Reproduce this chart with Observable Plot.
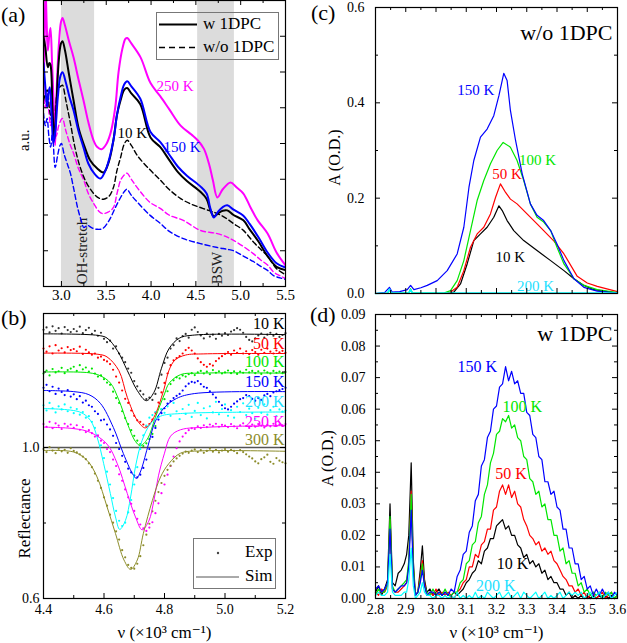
<!DOCTYPE html>
<html><head><meta charset="utf-8">
<script src="https://cdn.jsdelivr.net/npm/d3@7"></script>
<script src="https://cdn.jsdelivr.net/npm/@observablehq/plot@0.6"></script>
<style>
body{margin:0;background:#fff;}
#root{position:relative;width:627px;height:643px;overflow:hidden;font-family:"Liberation Serif","Times New Roman","DejaVu Serif",serif;color:#000;}
.letter{position:absolute;font-size:22px;}
.leg{position:absolute;border:1px solid #777;font-size:17px;}
.leg span{position:absolute;white-space:nowrap;}
</style></head><body><div id="root"></div>
<script>
// ---------------- Panel (a): a.u. spectra ----------------
const a250w = [[2.80,5.4],[2.812,6.8],[2.822,8.4],[2.835,7.4],[2.848,6.6],[2.864,7.0],[2.878,7.23],[2.895,6.3],[2.912,5.2],[2.93,3.95],[2.95,5.7],[2.975,6.9],[2.995,7.4],[3.012,7.51],[3.04,7.3],[3.08,6.9],[3.135,6.41],[3.19,5.8],[3.246,5.21],[3.30,4.6],[3.358,4.09],[3.40,3.9],[3.447,3.84],[3.50,3.98],[3.548,4.29],[3.60,5.0],[3.637,5.99],[3.68,6.65],[3.715,6.93],[3.735,6.95],[3.78,6.8],[3.883,6.41],[3.994,5.69],[4.10,5.33],[4.20,4.97],[4.33,4.5],[4.45,4.25],[4.52,4.09],[4.59,3.85],[4.65,3.4],[4.69,2.97],[4.74,2.49],[4.80,2.72],[4.887,2.91],[4.95,2.78],[5.03,2.6],[5.11,2.21],[5.19,1.85],[5.30,1.48],[5.40,0.95],[5.50,0.59]];
const a150w = [[2.80,6.25],[2.82,5.6],[2.84,5.01],[2.855,5.4],[2.87,5.57],[2.89,4.8],[2.91,4.0],[2.93,4.3],[2.96,5.3],[2.99,5.9],[3.012,5.99],[3.05,5.7],[3.09,5.3],[3.135,4.93],[3.19,4.35],[3.246,3.89],[3.30,3.44],[3.37,3.15],[3.436,3.02],[3.50,3.3],[3.58,4.09],[3.62,4.8],[3.66,5.3],[3.70,5.65],[3.734,5.74],[3.78,5.6],[3.88,5.25],[3.994,4.32],[4.106,4.03],[4.20,3.7],[4.30,3.35],[4.40,3.1],[4.55,2.8],[4.62,2.6],[4.66,2.2],[4.70,1.93],[4.75,2.1],[4.80,2.22],[4.85,2.27],[4.92,2.15],[5.03,1.98],[5.10,1.75],[5.20,1.37],[5.30,0.95],[5.40,0.65],[5.50,0.53]];
const a10w = [[2.80,6.97],[2.82,6.7],[2.848,6.13],[2.865,6.25],[2.878,6.2],[2.90,5.0],[2.92,4.1],[2.94,4.9],[2.97,6.3],[2.995,6.8],[3.012,6.86],[3.04,6.6],[3.08,6.0],[3.135,5.21],[3.19,4.45],[3.246,4.0],[3.32,3.53],[3.40,3.3],[3.47,3.19],[3.53,3.5],[3.58,4.09],[3.62,4.8],[3.66,5.21],[3.70,5.5],[3.734,5.55],[3.78,5.4],[3.88,5.1],[3.994,4.17],[4.106,3.89],[4.20,3.55],[4.30,3.2],[4.40,2.95],[4.55,2.65],[4.62,2.45],[4.66,2.15],[4.70,1.96],[4.75,2.05],[4.80,2.12],[4.85,2.13],[4.92,2.0],[5.03,1.85],[5.10,1.6],[5.20,1.25],[5.30,0.85],[5.40,0.55],[5.50,0.46]];
const a250wo = [[2.80,5.49],[2.82,5.0],[2.84,5.4],[2.86,4.9],[2.88,4.5],[2.90,4.8],[2.92,4.3],[2.94,4.2],[2.97,4.5],[3.0,4.68],[3.012,4.7],[3.05,4.35],[3.10,3.95],[3.135,3.73],[3.19,3.3],[3.25,2.97],[3.30,2.6],[3.36,2.32],[3.42,2.1],[3.46,2.04],[3.52,2.08],[3.58,2.21],[3.62,2.6],[3.66,2.97],[3.70,3.12],[3.73,3.17],[3.78,3.0],[3.85,2.75],[3.99,2.35],[4.106,2.18],[4.20,2.0],[4.36,1.85],[4.55,1.57],[4.74,1.48],[4.85,1.38],[4.92,1.29],[5.03,1.12],[5.14,0.92],[5.22,0.75],[5.30,0.6],[5.37,0.4],[5.44,0.3],[5.50,0.22]];
const a150wo = [[2.80,4.85],[2.82,4.5],[2.84,4.7],[2.86,4.2],[2.88,3.9],[2.90,4.3],[2.93,3.33],[2.96,3.7],[2.985,3.95],[3.0,4.0],[3.03,3.7],[3.07,3.4],[3.10,3.17],[3.14,2.7],[3.18,2.21],[3.22,1.85],[3.25,1.65],[3.29,1.71],[3.34,1.64],[3.40,1.6],[3.46,1.62],[3.52,1.8],[3.55,1.93],[3.60,2.2],[3.66,2.49],[3.70,2.65],[3.73,2.72],[3.78,2.55],[3.85,2.35],[3.99,1.99],[4.106,1.76],[4.20,1.55],[4.36,1.34],[4.55,1.2],[4.74,1.09],[4.85,1.04],[4.92,1.0],[5.03,0.85],[5.14,0.7],[5.22,0.57],[5.30,0.45],[5.37,0.3],[5.44,0.24],[5.50,0.2]];
const a10wo = [[2.80,5.2],[2.84,5.5],[2.87,4.9],[2.90,4.6],[2.93,5.0],[2.96,5.5],[3.0,5.62],[3.012,5.63],[3.05,5.2],[3.10,4.57],[3.15,3.9],[3.21,3.33],[3.28,2.9],[3.36,2.6],[3.42,2.47],[3.47,2.44],[3.53,2.52],[3.58,2.77],[3.62,3.25],[3.66,3.61],[3.70,3.98],[3.734,4.09],[3.78,3.95],[3.85,3.65],[3.994,3.25],[4.106,2.97],[4.20,2.72],[4.33,2.46],[4.45,2.3],[4.55,2.21],[4.65,2.12],[4.74,2.04],[4.83,1.92],[4.92,1.76],[5.03,1.57],[5.14,1.25],[5.22,1.05],[5.30,0.85],[5.40,0.5],[5.50,0.33]];
const aBands = [[3.0,3.37],[4.52,4.93]];
const aBandText = ["OH-stretch","BSW"];
const aBandTextX = [3.235,4.737];
const aLabelText = ["250 K","10 K","150 K"];
const aLabelX = [4.06,3.626,4.14];
const aLabelY = [5.6,4.29,3.9];
const aXMajor = [3.0,3.5,4.0,4.5,5.0,5.5];
const aXMinor = [3.25,3.75,4.25,4.75,5.25];
const aYTicks = [1,2,3,4,5,6,7];

// ---------------- Panel (b): reflectance ----------------
const bX = [4.40,4.41,4.42,4.43,4.44,4.45,4.46,4.47,4.48,4.49,4.50,4.51,4.52,4.53,4.54,4.55,4.56,4.57,4.58,4.59,4.60,4.61,4.62,4.63,4.64,4.65,4.66,4.67,4.68,4.69,4.70,4.71,4.72,4.73,4.74,4.75,4.76,4.77,4.78,4.79,4.80,4.81,4.82,4.83,4.84,4.85,4.86,4.87,4.88,4.89,4.90,4.91,4.92,4.93,4.94,4.95,4.96,4.97,4.98,4.99,5.00,5.01,5.02,5.03,5.04,5.05,5.06,5.07,5.08,5.09,5.10,5.11,5.12,5.13,5.14,5.15,5.16,5.17,5.18,5.19,5.20];
const b10e = [1.312,1.318,1.305,1.321,1.309,1.316,1.302,1.319,1.311,1.306,1.314,1.308,1.320,1.303,1.311,1.317,1.301,1.309,1.296,1.304,1.288,1.279,1.283,1.262,1.268,1.249,1.238,1.226,1.209,1.198,1.176,1.162,1.150,1.141,1.128,1.132,1.126,1.142,1.158,1.193,1.224,1.238,1.262,1.271,1.289,1.282,1.295,1.301,1.291,1.312,1.318,1.306,1.297,1.289,1.302,1.294,1.299,1.288,1.301,1.296,1.303,1.298,1.307,1.311,1.316,1.312,1.304,1.293,1.285,1.281,1.289,1.297,1.302,1.291,1.299,1.304,1.296,1.301,1.293,1.298,1.303];
const b50e = [1.262,1.254,1.268,1.249,1.271,1.257,1.263,1.252,1.266,1.258,1.261,1.255,1.267,1.248,1.259,1.252,1.246,1.249,1.238,1.241,1.232,1.228,1.221,1.206,1.188,1.172,1.151,1.129,1.118,1.098,1.084,1.072,1.068,1.061,1.056,1.062,1.074,1.092,1.119,1.146,1.171,1.196,1.218,1.231,1.237,1.242,1.249,1.258,1.264,1.257,1.249,1.236,1.226,1.219,1.214,1.221,1.217,1.229,1.236,1.242,1.248,1.253,1.246,1.257,1.251,1.262,1.249,1.255,1.247,1.258,1.253,1.246,1.259,1.251,1.262,1.254,1.249,1.257,1.252,1.256,1.251];
const b100e = [1.196,1.204,1.191,1.208,1.199,1.202,1.211,1.197,1.205,1.209,1.214,1.203,1.218,1.207,1.212,1.201,1.209,1.196,1.188,1.191,1.181,1.172,1.166,1.148,1.131,1.118,1.096,1.078,1.062,1.046,1.031,1.018,1.009,1.004,1.011,1.022,1.036,1.057,1.082,1.101,1.128,1.149,1.168,1.178,1.186,1.183,1.191,1.188,1.194,1.197,1.192,1.199,1.203,1.196,1.201,1.194,1.205,1.198,1.202,1.196,1.199,1.204,1.197,1.202,1.195,1.201,1.198,1.206,1.199,1.203,1.197,1.202,1.195,1.204,1.199,1.196,1.203,1.198,1.201,1.197,1.200];
const b150e = [1.158,1.166,1.149,1.161,1.142,1.156,1.147,1.139,1.152,1.135,1.141,1.128,1.136,1.119,1.124,1.112,1.108,1.096,1.089,1.072,1.074,1.061,1.048,1.031,1.012,0.996,0.978,0.962,0.944,0.934,0.926,0.921,0.928,0.946,0.968,0.996,1.028,1.052,1.074,1.091,1.104,1.116,1.123,1.131,1.137,1.142,1.151,1.162,1.169,1.174,1.172,1.176,1.168,1.161,1.158,1.149,1.141,1.132,1.121,1.112,1.104,1.101,1.108,1.116,1.122,1.128,1.131,1.139,1.136,1.129,1.124,1.131,1.126,1.138,1.142,1.136,1.146,1.149,1.152,1.155,1.158];
const b200e = [1.112,1.098,1.118,1.104,1.093,1.109,1.101,1.114,1.096,1.106,1.091,1.102,1.087,1.094,1.079,1.083,1.068,1.052,1.031,1.006,0.972,0.936,0.902,0.866,0.832,0.806,0.792,0.801,0.828,0.861,0.902,0.948,0.996,1.032,1.058,1.079,1.086,1.094,1.081,1.102,1.092,1.109,1.084,1.118,1.096,1.075,1.102,1.089,1.113,1.081,1.097,1.118,1.086,1.104,1.077,1.109,1.093,1.121,1.088,1.102,1.114,1.084,1.099,1.079,1.108,1.094,1.117,1.086,1.103,1.091,1.076,1.105,1.092,1.114,1.087,1.099,1.108,1.083,1.101,1.095,1.098];
const b250e = [1.062,1.055,1.068,1.051,1.064,1.058,1.049,1.063,1.056,1.061,1.052,1.059,1.047,1.054,1.041,1.046,1.038,1.029,1.032,1.018,1.012,0.996,0.988,0.968,0.951,0.929,0.912,0.889,0.868,0.851,0.832,0.811,0.796,0.786,0.779,0.788,0.802,0.826,0.852,0.879,0.902,0.928,0.951,0.976,0.998,1.016,1.029,1.038,1.046,1.051,1.049,1.056,1.052,1.059,1.054,1.061,1.057,1.063,1.055,1.060,1.058,1.054,1.062,1.056,1.051,1.059,1.064,1.057,1.052,1.061,1.055,1.062,1.058,1.053,1.060,1.056,1.063,1.058,1.061,1.059,1.062];
const b300e = [0.996,0.988,1.001,0.992,0.985,0.997,0.990,0.994,0.986,0.998,0.991,0.987,0.982,0.976,0.969,0.958,0.948,0.931,0.912,0.893,0.868,0.846,0.822,0.801,0.778,0.756,0.728,0.709,0.689,0.681,0.679,0.692,0.712,0.741,0.769,0.798,0.831,0.859,0.882,0.906,0.925,0.941,0.952,0.963,0.971,0.978,0.984,0.989,0.986,0.992,0.995,0.988,0.993,0.986,0.991,0.997,0.989,0.994,0.987,0.992,0.996,0.989,0.994,0.991,0.985,0.993,0.988,0.982,0.976,0.971,0.963,0.958,0.969,0.974,0.981,0.962,0.957,0.972,0.965,0.961,0.958];
const b10s = [[4.40,1.301],[4.58,1.297],[4.61,1.29],[4.644,1.257],[4.677,1.204],[4.71,1.151],[4.74,1.124],[4.765,1.146],[4.79,1.21],[4.815,1.262],[4.85,1.29],[4.9,1.298],[5.2,1.299]];
const b50s = [[4.40,1.25],[4.58,1.247],[4.61,1.24],[4.649,1.204],[4.677,1.133],[4.71,1.072],[4.737,1.052],[4.765,1.08],[4.797,1.151],[4.815,1.205],[4.835,1.232],[4.87,1.245],[4.93,1.248],[5.2,1.249]];
const b100s = [[4.40,1.2],[4.55,1.198],[4.588,1.19],[4.621,1.171],[4.649,1.126],[4.677,1.064],[4.704,1.016],[4.72,1.005],[4.743,1.022],[4.77,1.08],[4.80,1.142],[4.815,1.17],[4.853,1.193],[4.92,1.197],[5.2,1.197]];
const b150s = [[4.40,1.151],[4.50,1.148],[4.55,1.14],[4.588,1.117],[4.631,1.053],[4.664,0.984],[4.694,0.931],[4.707,0.918],[4.72,0.935],[4.744,1.0],[4.77,1.07],[4.80,1.106],[4.84,1.13],[4.90,1.143],[5.2,1.148]];
const b200s = [[4.40,1.103],[4.52,1.094],[4.555,1.072],[4.577,1.028],[4.599,0.957],[4.621,0.878],[4.638,0.816],[4.652,0.783],[4.671,0.807],[4.688,0.869],[4.704,0.949],[4.726,1.019],[4.754,1.063],[4.787,1.083],[4.853,1.09],[5.2,1.094]];
const b250s = [[4.40,1.054],[4.50,1.05],[4.555,1.04],[4.61,1.009],[4.644,0.957],[4.677,0.878],[4.704,0.816],[4.726,0.782],[4.748,0.805],[4.765,0.86],[4.78,0.925],[4.80,0.985],[4.82,1.03],[4.853,1.047],[4.95,1.054],[5.2,1.058]];
const b300s = [[4.40,0.992],[4.50,0.988],[4.544,0.966],[4.577,0.922],[4.61,0.843],[4.638,0.772],[4.666,0.702],[4.688,0.677],[4.71,0.702],[4.73,0.772],[4.76,0.86],[4.787,0.922],[4.814,0.957],[4.853,0.985],[4.92,0.991],[5.2,0.99]];
const bTemps = ["10 K","50 K","100 K","150 K","200 K","250 K","300 K"];
const bLabelY = [1.328,1.275,1.226,1.173,1.12,1.067,1.019];
const bXMajor = [4.4,4.6,4.8,5.0,5.2];
const bXMinor = [4.5,4.7,4.9,5.1];
const bYMajor = [0.6,1.0];
const bYMinor = [0.8,1.2];

// ---------------- Panel (c): w/o 1DPC ----------------
const c150 = [[2.80,0.0],[2.83,0.002],[2.846,0.013],[2.855,0.003],[2.88,0.004],[2.905,0.008],[2.916,0.017],[2.927,0.008],[2.95,0.012],[2.971,0.017],[3.004,0.027],[3.037,0.048],[3.07,0.083],[3.092,0.139],[3.109,0.223],[3.125,0.279],[3.147,0.328],[3.169,0.345],[3.191,0.373],[3.208,0.415],[3.224,0.462],[3.235,0.447],[3.246,0.384],[3.263,0.321],[3.285,0.251],[3.312,0.188],[3.334,0.164],[3.356,0.153],[3.379,0.132],[3.40,0.104],[3.423,0.069],[3.456,0.031],[3.489,0.013],[3.533,0.005],[3.60,0.001]];
const c100 = [[2.80,0.0],[2.84,0.001],[2.846,0.008],[2.852,0.001],[2.91,0.001],[2.916,0.010],[2.922,0.001],[3.026,0.001],[3.048,0.006],[3.07,0.027],[3.092,0.069],[3.114,0.132],[3.136,0.195],[3.158,0.237],[3.18,0.272],[3.202,0.30],[3.222,0.317],[3.246,0.307],[3.268,0.279],[3.29,0.237],[3.312,0.188],[3.334,0.16],[3.356,0.15],[3.379,0.132],[3.40,0.097],[3.423,0.062],[3.456,0.031],[3.489,0.017],[3.533,0.008],[3.60,0.002]];
const c50 = [[2.80,0.0],[3.03,0.0],[3.048,0.003],[3.07,0.013],[3.092,0.048],[3.114,0.097],[3.136,0.125],[3.158,0.139],[3.18,0.167],[3.197,0.202],[3.213,0.23],[3.23,0.212],[3.246,0.198],[3.268,0.188],[3.301,0.167],[3.334,0.146],[3.356,0.132],[3.39,0.11],[3.423,0.083],[3.467,0.036],[3.50,0.022],[3.533,0.015],[3.60,0.004]];
const c10 = [[2.80,0.0],[3.04,0.0],[3.059,0.003],[3.081,0.02],[3.103,0.062],[3.125,0.111],[3.147,0.125],[3.169,0.139],[3.191,0.16],[3.208,0.184],[3.219,0.174],[3.235,0.153],[3.257,0.132],[3.29,0.111],[3.334,0.09],[3.379,0.069],[3.423,0.048],[3.456,0.031],[3.489,0.017],[3.522,0.008],[3.60,0.001]];
const c200 = [[2.80,0.0],[2.84,0.001],[2.846,0.009],[2.852,0.001],[2.91,0.001],[2.916,0.008],[2.922,0.001],[3.60,0.001]];
const cLabelText = ["150 K","100 K","50 K","10 K","200 K"];
const cLabelX = [3.07,3.274,3.186,3.197,3.268];
const cLabelY = [0.4256,0.280,0.251,0.076,0.0147];

// ---------------- Panel (d): w 1DPC ----------------
const dPeakX = [2.80,2.81,2.82,2.83,2.840,2.848,2.856,2.865,2.875,2.885,2.895,2.903,2.910,2.918,2.925,2.932,2.940,2.948,2.955,2.962,2.970,2.980,2.990,3.000,3.010,3.020,3.030,3.040];
const d10p = [0.002,0.004,0.001,0.003,0.006,0.030,0.005,0.004,0.008,0.009,0.011,0.014,0.020,0.043,0.012,0.001,0.002,0.009,0.0167,0.006,0.002,0.003,0.001,0.002,0.003,0.001,0.002,0.001];
const d50p = [0.002,0.001,0.003,0.002,0.004,0.025,0.003,0.002,0.002,0.003,0.004,0.005,0.011,0.034,0.009,0.001,0.002,0.007,0.012,0.005,0.001,0.002,0.001,0.003,0.001,0.002,0.001,0.002];
const d100p = [0.001,0.003,0.002,0.002,0.005,0.026,0.004,0.002,0.003,0.004,0.005,0.006,0.012,0.033,0.010,0.001,0.002,0.006,0.011,0.004,0.002,0.001,0.003,0.001,0.002,0.001,0.003,0.001];
const d150p = [0.003,0.004,0.002,0.003,0.005,0.022,0.003,0.002,0.003,0.004,0.004,0.005,0.010,0.028,0.008,0.001,0.002,0.005,0.009,0.004,0.001,0.002,0.002,0.001,0.002,0.001,0.002,0.001];
const d200p = [0.001,0.002,0.001,0.001,0.002,0.014,0.002,0.001,0.001,0.001,0.002,0.002,0.006,0.016,0.004,0.000,0.001,0.002,0.005,0.002,0.001,0.001,0.000,0.001,0.001,0.000,0.001,0.000];
const dBandX = [3.05,3.06,3.07,3.08,3.09,3.10,3.11,3.12,3.13,3.14,3.15,3.16,3.17,3.18,3.19,3.20,3.21,3.22,3.23,3.24,3.25,3.26,3.27,3.28,3.29,3.30,3.31,3.32,3.33,3.34,3.35,3.36,3.37,3.38,3.39,3.40,3.41,3.42,3.43,3.44,3.45,3.46,3.47,3.48,3.49,3.50,3.51,3.52,3.53,3.54,3.55,3.56,3.57,3.58,3.59,3.60];
const d150b = [0.003,0.002,0.007,0.009,0.014,0.015,0.021,0.023,0.031,0.033,0.042,0.044,0.051,0.053,0.060,0.061,0.067,0.068,0.0735,0.069,0.072,0.068,0.069,0.065,0.065,0.059,0.058,0.052,0.051,0.045,0.044,0.037,0.037,0.033,0.034,0.029,0.028,0.022,0.022,0.016,0.016,0.011,0.011,0.006,0.007,0.003,0.004,0.001,0.003,0.001,0.003,0.001,0.002,0.000,0.002,0.001];
const d100b = [0.001,0.002,0.002,0.005,0.006,0.011,0.012,0.017,0.018,0.024,0.026,0.033,0.036,0.043,0.046,0.052,0.053,0.057,0.056,0.058,0.054,0.055,0.051,0.050,0.045,0.044,0.038,0.037,0.033,0.034,0.029,0.030,0.025,0.025,0.020,0.020,0.015,0.016,0.011,0.012,0.008,0.008,0.004,0.005,0.002,0.003,0.001,0.002,0.001,0.002,0.000,0.002,0.001,0.002,0.000,0.001];
const d50b = [0.001,0.000,0.002,0.003,0.005,0.006,0.010,0.010,0.014,0.013,0.017,0.018,0.022,0.022,0.028,0.029,0.034,0.036,0.033,0.036,0.032,0.034,0.030,0.029,0.025,0.023,0.020,0.019,0.017,0.018,0.015,0.016,0.014,0.015,0.012,0.011,0.009,0.007,0.006,0.004,0.004,0.002,0.003,0.001,0.002,0.000,0.001,0.002,0.000,0.001,0.002,0.000,0.001,0.002,0.000,0.001];
const d10b = [0.001,0.002,0.001,0.002,0.003,0.005,0.006,0.008,0.009,0.012,0.011,0.015,0.016,0.019,0.019,0.023,0.024,0.025,0.022,0.023,0.020,0.020,0.017,0.016,0.013,0.014,0.011,0.012,0.010,0.011,0.008,0.009,0.006,0.007,0.005,0.005,0.003,0.003,0.001,0.002,0.000,0.001,0.000,0.001,0.000,0.001,0.000,0.001,0.000,0.001,0.000,0.001,0.000,0.001,0.000,0.001];
const d200b = [0.001,0.000,0.002,0.000,0.001,0.000,0.001,0.000,0.002,0.000,0.001,0.000,0.002,0.001,0.000,0.001,0.002,0.000,0.001,0.002,0.000,0.001,0.002,0.000,0.002,0.001,0.000,0.001,0.002,0.000,0.001,0.002,0.000,0.001,0.000,0.001,0.002,0.000,0.001,0.002,0.001,0.002,0.001,0.002,0.000,0.001,0.002,0.000,0.001,0.002,0.000,0.001,0.002,0.000,0.001,0.002];
const dLabelText = ["150 K","100 K","50 K","10 K","200 K"];
const dLabelX = [3.071,3.22,3.196,3.201,3.132];
const dLabelY = [0.0734,0.0607,0.0396,0.0111,0.0039];
const cdXMajor = [2.8,2.9,3.0,3.1,3.2,3.3,3.4,3.5,3.6];
const cdXMinor = [2.85,2.95,3.05,3.15,3.25,3.35,3.45,3.55];
const cYMajor = [0,0.2,0.4,0.6];
const cYMinor = [0.1,0.3,0.5];
const dYMajor = [0,0.01,0.02,0.03,0.04,0.05,0.06,0.07,0.08,0.09];
const dYMinor = [0.005,0.015,0.025,0.035,0.045,0.055,0.065,0.075,0.085];

// ---------------- styling ----------------
const FONT = '"Liberation Serif","Times New Roman","DejaVu Serif",serif';
const MAG="#ff00ff", BLU="#0000ff", BLK="#000000", RED="#ff0000", GRN="#00e600", CYN="#00ffff", OLV="#8c8c2a";
const CYNT="#1ee0ff";
const root = document.getElementById("root");
const style = {fontFamily: FONT, fontSize: "14px", background: "transparent", overflow: "visible", color:"#000"};

function inward(W, H, {xMaj=[], xMin=[], yMaj=[], yMin=[]}) {
  const o = {stroke:"#000", strokeWidth:1};
  const m = [];
  for (const [v, len] of [[xMaj,5],[xMin,3]]) {
    if (!v.length) continue;
    m.push(Plot.tickX(v, {x: d=>d, insetTop: H-len, ...o}));
    m.push(Plot.tickX(v, {x: d=>d, insetBottom: H-len, ...o}));
  }
  for (const [v, len] of [[yMaj,5],[yMin,3]]) {
    if (!v.length) continue;
    m.push(Plot.tickY(v, {y: d=>d, insetRight: W-len, ...o}));
    m.push(Plot.tickY(v, {y: d=>d, insetLeft: W-len, ...o}));
  }
  return m;
}
function place(el, left, top) {
  el.style.position = "absolute"; el.style.left = left+"px"; el.style.top = top+"px";
  root.appendChild(el);
}
const pairs = arr => arr.map(([x,y]) => ({x,y}));
const zipXY = (xs, ys) => xs.map((x,i) => ({x, y: ys[i]}));
const yTitle = (t, y, dx, fs) => Plot.text([t], {y, frameAnchor:"left", textAnchor:"middle", lineAnchor:"middle", dx, rotate:-90, fontSize:fs});

// ---------- Panel A ----------
{
  const W=300,H=306,ml=43,mr=15,mt=0,mb=20;
  const iw=W-ml-mr, ih=H-mt-mb;
  const series = [
    [a250wo,MAG,"5,3",1.4],[a150wo,BLU,"5,3",1.4],[a10wo,BLK,"5,3",1.4],
    [a250w,MAG,null,2],[a10w,BLK,null,2],[a150w,BLU,null,2]
  ];
  const labs = aLabelText.map((t,i)=>({t, x:aLabelX[i], y:aLabelY[i], c:[MAG,BLK,BLU][i]}));
  const bandTxt = aBandText.map((t,i)=>({t, x:aBandTextX[i]}));
  const p = Plot.plot({
    width:W, height:H, marginLeft:ml, marginRight:mr, marginTop:mt, marginBottom:mb, style:{...style, fontSize:"15px"},
    x:{domain:[2.8,5.5], ticks:aXMajor, tickSize:0, tickPadding:3, tickFormat:d3.format(".1f"), label:null},
    y:{domain:[0,8], axis:null},
    color:{type:"identity"},
    marks:[
      Plot.rect(aBands, {x1:d=>d[0], x2:d=>d[1], y1:0, y2:8, fill:"#dcdcdc"}),
      Plot.text(bandTxt, {x:"x", y:0.06, text:"t", rotate:-90, textAnchor:"start", fontSize:15, fill:"#222"}),
      ...series.map(([d,c,dash,w]) => Plot.line(pairs(d), {x:"x", y:"y", stroke:c, strokeWidth:w, strokeDasharray:dash, curve:"catmull-rom", clip:true})),
      Plot.text(labs, {x:"x", y:"y", text:"t", fill:"c", textAnchor:"start", fontSize:15}),
      yTitle("a.u.", 4.09, -19, 15),
      ...inward(iw, ih, {xMaj:aXMajor, xMin:aXMinor, yMaj:aYTicks}),
      Plot.frame({stroke:"#000", strokeWidth:1.2})
    ]
  });
  place(p, 0, 0);
}

// ---------- Panel B ----------
{
  const W=300,H=343,ml=43,mr=15,mt=13,mb=45;
  const iw=W-ml-mr, ih=H-mt-mb;
  const cols = [BLK,RED,GRN,BLU,CYN,MAG,OLV];
  const dotCols = ["#333",RED,GRN,BLU,CYN,MAG,OLV];
  const sims = [b10s,b50s,b100s,b150s,b200s,b250s,b300s];
  const exps = [b10e,b50e,b100e,b150e,b200e,b250e,b300e];
  const labs = bTemps.map((t,i)=>({t, y:bLabelY[i], c:[BLK,RED,GRN,BLU,CYNT,MAG,OLV][i]}));
  const p = Plot.plot({
    width:W, height:H, marginLeft:ml, marginRight:mr, marginTop:mt, marginBottom:mb, style,
    x:{domain:[4.4,5.2], ticks:bXMajor, tickSize:0, tickPadding:6, tickFormat:d3.format(".1f"), label:null},
    y:{domain:[0.6,1.355], ticks:bYMajor, tickSize:0, tickPadding:4, tickFormat:d3.format(".1f"), label:null},
    color:{type:"identity"},
    marks:[
      Plot.ruleY([1.0], {stroke:"#555", strokeWidth:1.5}),
      ...exps.map((ys,i) => Plot.dot(zipXY(bX, ys), {x:"x", y:"y", r:1.1, fill:dotCols[i], stroke:null})),
      ...sims.map((d,i) => Plot.line(pairs(d), {x:"x", y:"y", stroke:cols[i], strokeWidth:1, curve:"catmull-rom"})),
      Plot.text(labs, {x:5.2, y:"y", text:"t", fill:"c", textAnchor:"end", dx:-1, fontSize:16}),
      yTitle("Reflectance", 0.812, -19, 17),
      Plot.text(["ν (×10³ cm⁻¹)"], {frameAnchor:"bottom", textAnchor:"middle", lineAnchor:"middle", dy:34, fontSize:17}),
      ...inward(iw, ih, {xMaj:bXMajor, xMin:bXMinor, yMaj:bYMajor, yMin:bYMinor}),
      Plot.frame({stroke:"#000", strokeWidth:1.2})
    ]
  });
  place(p, 0, 300);
}

// ---------- Panel C ----------
{
  const W=317,H=300,ml=65,mr=10,mt=7,mb=7;
  const iw=W-ml-mr, ih=H-mt-mb;
  const series = [[c10,BLK],[c50,RED],[c100,GRN],[c150,BLU],[c200,CYN]];
  const labs = cLabelText.map((t,i)=>({t, x:cLabelX[i], y:cLabelY[i], c:[BLU,GRN,RED,BLK,CYNT][i]}));
  const p = Plot.plot({
    width:W, height:H, marginLeft:ml, marginRight:mr, marginTop:mt, marginBottom:mb, style,
    x:{domain:[2.8,3.6], axis:null},
    y:{domain:[0,0.6], ticks:cYMajor, tickSize:0, tickPadding:11, tickFormat:d3.format(".1f"), label:null},
    color:{type:"identity"},
    marks:[
      ...series.map(([d,c]) => Plot.line(pairs(d), {x:"x", y:"y", stroke:c, strokeWidth:c===CYN?1.6:1.2})),
      Plot.text(labs, {x:"x", y:"y", text:"t", fill:"c", textAnchor:"start", fontSize:15}),
      Plot.text(["w/o 1DPC"], {frameAnchor:"top-right", textAnchor:"end", lineAnchor:"middle", dx:-5, dy:25, fontSize:22}),
      yTitle("A (O.D.)", 0.285, -41, 16),
      ...inward(iw, ih, {xMaj:cdXMajor, xMin:cdXMinor, yMaj:cYMajor, yMin:cYMinor}),
      Plot.frame({stroke:"#000", strokeWidth:1.2})
    ]
  });
  place(p, 310, 0);
}

// ---------- Panel D ----------
{
  const W=317,H=343,ml=65,mr=10,mt=14,mb=45;
  const iw=W-ml-mr, ih=H-mt-mb;
  const mk = (pk, bd) => zipXY(dPeakX, pk).concat(zipXY(dBandX, bd));
  const series = [[mk(d10p,d10b),BLK],[mk(d50p,d50b),RED],[mk(d100p,d100b),GRN],[mk(d150p,d150b),BLU],[mk(d200p,d200b),CYN]];
  const labs = dLabelText.map((t,i)=>({t, x:dLabelX[i], y:dLabelY[i], c:[BLU,GRN,RED,BLK,CYNT][i]}));
  const p = Plot.plot({
    width:W, height:H, marginLeft:ml, marginRight:mr, marginTop:mt, marginBottom:mb, style,
    x:{domain:[2.8,3.6], ticks:cdXMajor, tickSize:0, tickPadding:6, tickFormat:d3.format(".1f"), label:null},
    y:{domain:[0,0.09], ticks:dYMajor, tickSize:0, tickPadding:10, tickFormat:d3.format(".2f"), label:null},
    color:{type:"identity"},
    marks:[
      ...series.map(([d,c]) => Plot.line(d, {x:"x", y:"y", stroke:c, strokeWidth:1.2})),
      Plot.text(labs, {x:"x", y:"y", text:"t", fill:"c", textAnchor:"start", fontSize:16}),
      Plot.text(["w 1DPC"], {frameAnchor:"top-right", textAnchor:"end", lineAnchor:"middle", dx:-5, dy:19, fontSize:22}),
      yTitle("A (O.D.)", 0.0444, -48, 16),
      Plot.text(["ν (×10³ cm⁻¹)"], {frameAnchor:"bottom", textAnchor:"middle", lineAnchor:"middle", dy:34, fontSize:17}),
      ...inward(iw, ih, {xMaj:cdXMajor, xMin:cdXMinor, yMaj:dYMajor, yMin:dYMinor}),
      Plot.frame({stroke:"#000", strokeWidth:1.2})
    ]
  });
  place(p, 310, 300);
}

// ---------- Panel letters & legends ----------
const letters = [["(a)",1,2],["(b)",1,305],["(c)",311,0],["(d)",310,302]];
for (const [t,l,tp] of letters) { const d=document.createElement("div"); d.className="letter"; d.textContent=t; place(d,l,tp); }

const legA = document.createElement("div");
legA.className="leg"; legA.style.width="121px"; legA.style.height="46px";
legA.innerHTML = '<svg width="121" height="46" style="position:absolute;left:0;top:0"><line x1="2" x2="40" y1="11.5" y2="11.5" stroke="#000" stroke-width="2"/><line x1="2" x2="40" y1="34.5" y2="34.5" stroke="#000" stroke-width="1.6" stroke-dasharray="6,4"/></svg>';
const legAText = ["w 1DPC","w/o 1DPC"];
legAText.forEach((t,i)=>{ const s=document.createElement("span"); s.textContent=t; s.style.left="46px"; s.style.top=(i?24:1)+"px"; legA.appendChild(s); });
place(legA, 156, 12);

const legB = document.createElement("div");
legB.className="leg"; legB.style.width="81px"; legB.style.height="49px";
legB.innerHTML = '<svg width="81" height="49" style="position:absolute;left:0;top:0"><circle cx="24" cy="14" r="1.2" fill="#444"/><line x1="2" x2="45" y1="38" y2="38" stroke="#555" stroke-width="1"/></svg>';
const legBText = ["Exp","Sim"];
legBText.forEach((t,i)=>{ const s=document.createElement("span"); s.textContent=t; s.style.left="51px"; s.style.top=(i?27:3)+"px"; legB.appendChild(s); });
place(legB, 193, 538);
</script></body></html>
